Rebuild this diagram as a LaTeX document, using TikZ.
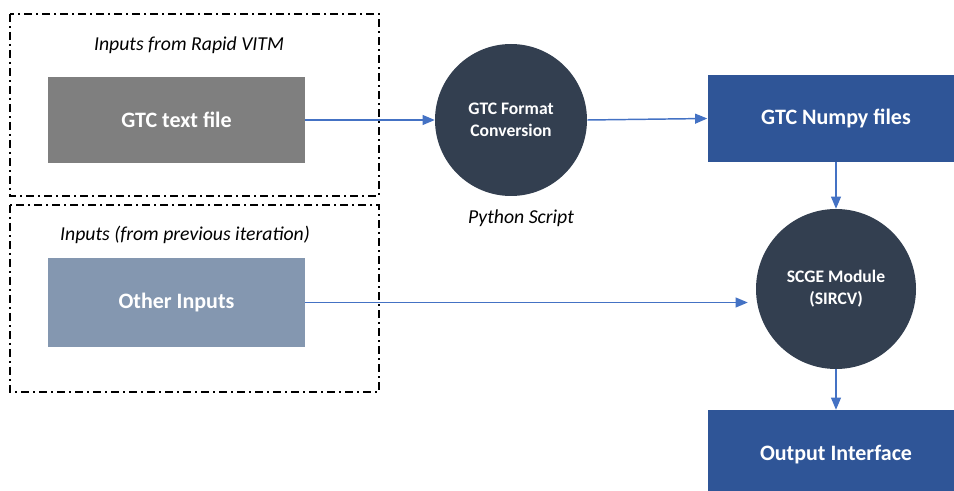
\documentclass[tikz,border=0pt]{standalone}
\usepackage{fontspec}
\setmainfont{Carlito}
\usepackage{tikz}
\usetikzlibrary{shapes,arrows,positioning,calc}

\definecolor{filegray}{HTML}{7F7F7F}
\definecolor{inputblue}{HTML}{8497B0}
\definecolor{npyblue}{HTML}{2F5597}
\definecolor{procdark}{HTML}{333F50}
\definecolor{flowblue}{HTML}{4472C4}

\tikzset{
	filebox/.style={rectangle, draw=none, text=white, font=\fontsize{16.5}{19}\selectfont\bfseries},
	procnode/.style={circle, fill=procdark, text=white, align=center, inner sep=0pt, font=\fontsize{13.2}{16.5}\selectfont\bfseries},
	flow/.style={->, >=triangle 45, draw=flowblue, line width=1.1pt},
	inbox/.style={draw=black, line width=1.1pt, dash pattern=on 6pt off 3pt on 1.5pt off 3pt},
	caption/.style={font=\fontsize{14.8}{17}\selectfont\itshape}
}

\begin{document}
\begin{tikzpicture}[x=0.75pt,y=-0.75pt]
	
	\useasboundingbox (0,0) rectangle (954,491);
	\clip (0,0) rectangle (954,491);
	
	\draw[inbox] (10,14) rectangle (379,196);
	\draw[inbox] (10,205) rectangle (379,392);
	\node[caption] (capvitm) at (189,45) {Inputs from Rapid VITM};
	\node[caption] (capprev) at (185,235) {Inputs (from previous iteration)};
	
	\node[filebox, fill=filegray, minimum width=192.75pt, minimum height=64.5pt] (txt) at (176.5,120) {GTC text file};
	\node[filebox, fill=inputblue, minimum width=192.75pt, minimum height=66.75pt] (other) at (176.5,302.5) {Other Inputs};
	
	\node[procnode, minimum size=114pt] (conv) at (511,120) {GTC Format\\Conversion};
	\node[caption] (capscript) at (521,218) {Python Script};
	
	\node[filebox, fill=npyblue, minimum width=192.75pt, minimum height=65.25pt] (npy) at (836,118.5) {GTC Numpy files};
	\node[procnode, minimum size=120pt] (scge) at (836,289) {SCGE Module\\(SIRCV)};
	\node[filebox, fill=npyblue, minimum width=192.75pt, minimum height=67.5pt] (out) at (836,455) {Output Interface};
	
	\draw[flow] (txt.east) -- (conv.west);
	\draw[flow] (conv.east) -- (npy.west);
	\draw[flow] (npy.south -| scge.north) -- (scge.north);
	\draw[flow] (other.east) -- ($(other.east -| scge.west)+(-8,0)$);
	\draw[flow] (scge.south) -- (scge.south |- out.north);
	
\end{tikzpicture}
\end{document}
